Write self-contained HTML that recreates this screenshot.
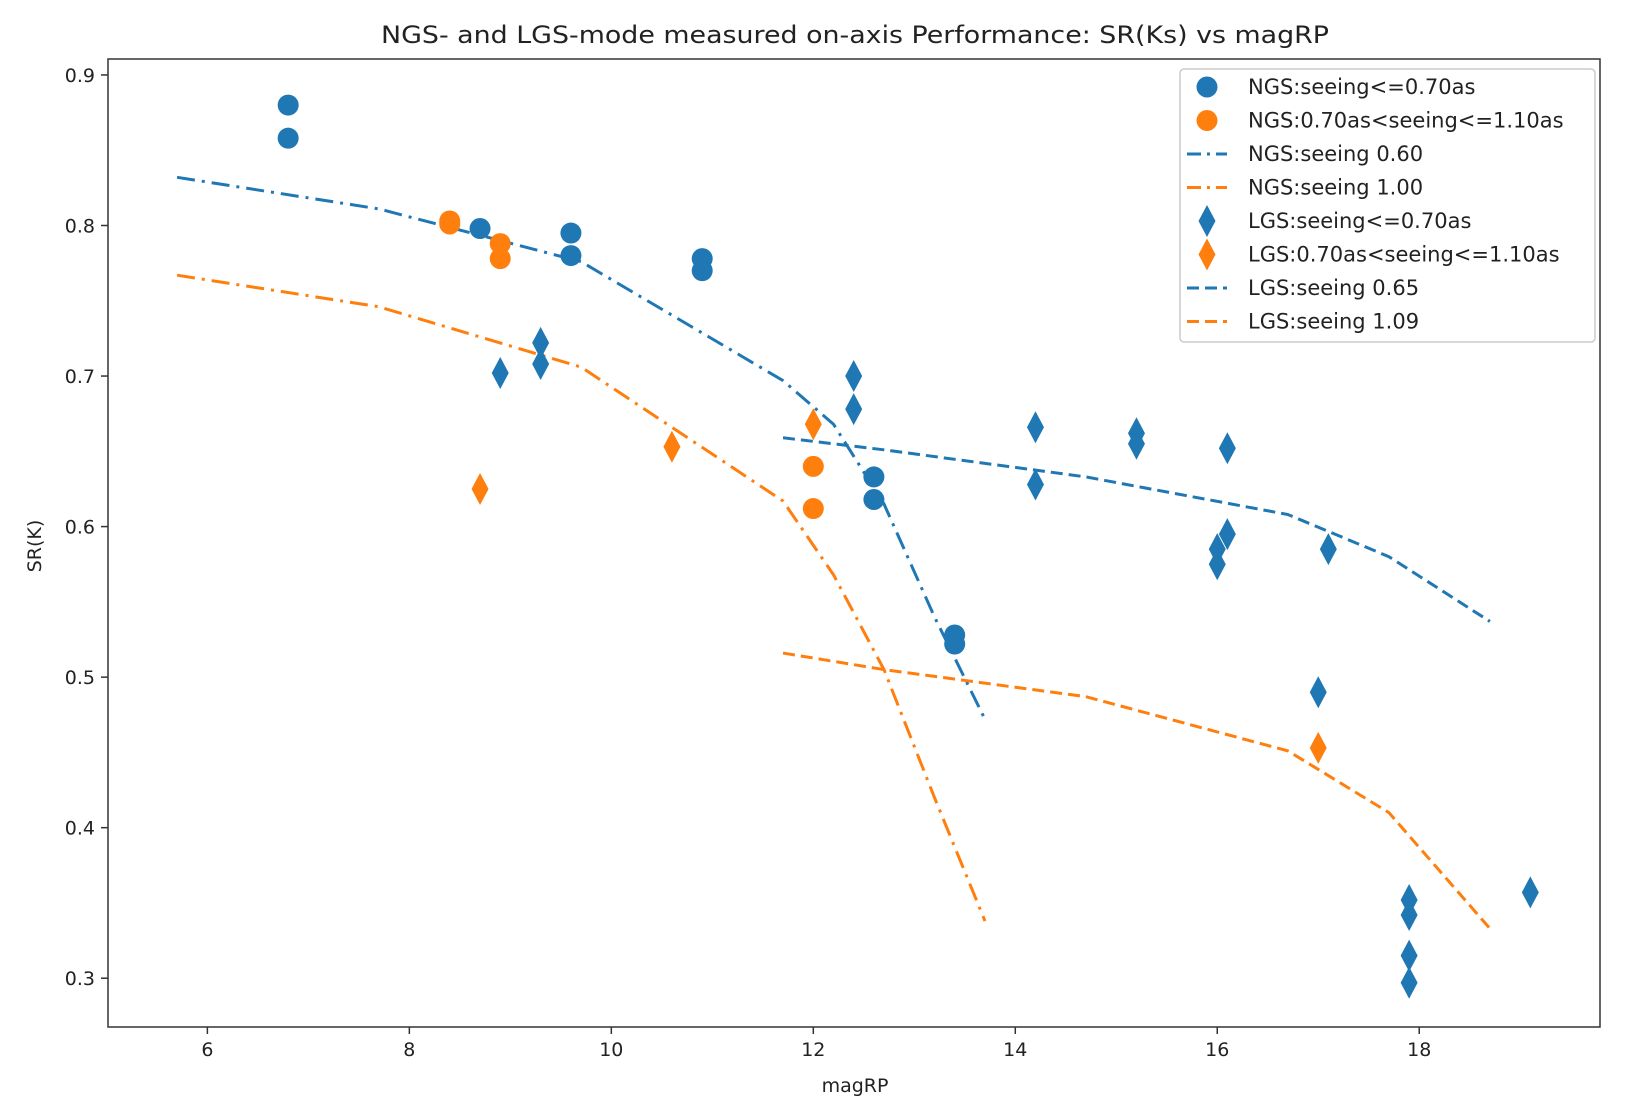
<!DOCTYPE html>
<html><head><meta charset="utf-8"><style>
body{margin:0;background:#fff;}
svg text{font-family:"DejaVu Sans","Liberation Sans",sans-serif;fill:#222;}
</style></head><body>
<svg id="chart" width="1625" height="1109" xmlns="http://www.w3.org/2000/svg">
<text x="855" y="43" font-size="24" text-anchor="middle" textLength="948" lengthAdjust="spacingAndGlyphs">NGS- and LGS-mode measured on-axis Performance: SR(Ks) vs magRP</text>
<text x="855" y="1092" font-size="19" text-anchor="middle">magRP</text>
<text x="0" y="0" font-size="19" text-anchor="middle" transform="translate(41,546) rotate(-90)">SR(K)</text>
<g id="plot"></g>
<rect x="108" y="59" width="1492" height="968" fill="none" stroke="#333" stroke-width="1.5"/>
<g id="legend"></g>
</svg>
<script>
const xTicks=[6,8,10,12,14,16,18];
const yTicks=[0.3,0.4,0.5,0.6,0.7,0.8,0.9];
const ngsGoodX=[6.8,6.8,8.7,9.6,9.6,10.9,10.9,12.6,12.6,13.4,13.4];
const ngsGoodY=[0.88,0.858,0.798,0.795,0.78,0.778,0.77,0.633,0.618,0.528,0.522];
const ngsBadX=[8.4,8.4,8.9,8.9,12.0,12.0];
const ngsBadY=[0.803,0.801,0.788,0.778,0.64,0.612];
const lgsGoodX=[8.9,9.3,9.3,12.4,12.4,14.2,14.2,15.2,15.2,16.0,16.0,16.1,16.1,17.0,17.1,17.9,17.9,17.9,17.9,19.1];
const lgsGoodY=[0.702,0.722,0.708,0.700,0.678,0.666,0.628,0.662,0.655,0.575,0.585,0.595,0.652,0.49,0.585,0.352,0.342,0.315,0.297,0.357];
const lgsBadX=[8.7,10.6,12.0,17.0];
const lgsBadY=[0.625,0.653,0.668,0.453];
const ngsLineX=[5.7,7.7,9.7,11.7,12.2,12.7,13.2,13.7];
const ngs060Y=[0.832,0.811,0.776,0.697,0.668,0.615,0.54,0.472];
const ngs100Y=[0.767,0.746,0.706,0.617,0.568,0.505,0.42,0.338];
const lgsLineX=[11.7,12.7,14.7,16.7,17.7,18.7];
const lgs065Y=[0.659,0.651,0.633,0.608,0.58,0.537];
const lgs109Y=[0.516,0.505,0.487,0.451,0.41,0.333];

const L=108,R=1600,T=59,B=1027,X0=5.016,X1=19.79,Y0=0.2676,Y1=0.9106;
const sx=v=>L+(v-X0)/(X1-X0)*(R-L);
const sy=v=>B-(v-Y0)/(Y1-Y0)*(B-T);
const NS="http://www.w3.org/2000/svg";
const svg=document.getElementById('chart');
const plot=document.getElementById('plot');
const BLUE="#1f77b4",ORANGE="#ff7f0e";
function mk(tag,attrs,parent){const e=document.createElementNS(NS,tag);for(const k in attrs)e.setAttribute(k,attrs[k]);parent.appendChild(e);return e;}
xTicks.forEach(t=>{
  const l=mk('line',{x1:sx(t),x2:sx(t),y1:B,y2:B+7,stroke:'#333','stroke-width':1.5},svg);
  
  
  const tx=mk('text',{x:sx(t),y:B+29,'font-size':19,'text-anchor':'middle'},svg);tx.textContent=t;
  
  
});
yTicks.forEach(t=>{
  const l=mk('line',{x1:L-7,x2:L,y1:sy(t),y2:sy(t),stroke:'#333','stroke-width':1.5},svg);
  
  
  const tx=mk('text',{x:L-13,y:sy(t)+7,'font-size':19,'text-anchor':'end'},svg);tx.textContent=t.toFixed(1);
  
  
});
function line(xs,ys,color,dash,name){
  const p=mk('polyline',{points:xs.map((x,i)=>sx(x)+','+sy(ys[i])).join(' '),fill:'none',stroke:color,'stroke-width':3,'stroke-dasharray':dash},plot);
  
  
}
function circ(cx,cy,color,g){return mk('circle',{cx:cx,cy:cy,r:10.5,fill:color},g);}
function diam(cx,cy,color,g){return mk('polygon',{points:`${cx},${cy-16} ${cx+8.5},${cy} ${cx},${cy+16} ${cx-8.5},${cy}`,fill:color},g);}
line(ngsLineX,ngs060Y,BLUE,'18 7 3 7','ngs-seeing-060-line');
line(ngsLineX,ngs100Y,ORANGE,'18 7 3 7','ngs-seeing-100-line');
line(lgsLineX,lgs065Y,BLUE,'12 6','lgs-seeing-065-line');
line(lgsLineX,lgs109Y,ORANGE,'12 6','lgs-seeing-109-line');
ngsGoodX.forEach((x,i)=>{const e=circ(sx(x),sy(ngsGoodY[i]),BLUE,plot);
  
  });
ngsBadX.forEach((x,i)=>{const e=circ(sx(x),sy(ngsBadY[i]),ORANGE,plot);
  
  });
lgsGoodX.forEach((x,i)=>{const e=diam(sx(x),sy(lgsGoodY[i]),BLUE,plot);
  
  });
lgsBadX.forEach((x,i)=>{const e=diam(sx(x),sy(lgsBadY[i]),ORANGE,plot);
  
  });
const lg=document.getElementById('legend');
mk('rect',{x:1180,y:69,width:415,height:273,rx:4,fill:'#fff',stroke:'#ccc','stroke-width':1.5},lg);
const labels=["NGS:seeing<=0.70as","NGS:0.70as<seeing<=1.10as","NGS:seeing 0.60","NGS:seeing 1.00","LGS:seeing<=0.70as","LGS:0.70as<seeing<=1.10as","LGS:seeing 0.65","LGS:seeing 1.09"];
const kinds=['c','c','dd','dd','d','d','da','da'];
const cols=[BLUE,ORANGE,BLUE,ORANGE,BLUE,ORANGE,BLUE,ORANGE];
labels.forEach((t,i)=>{
  const y=87+i*33.5,cx=1207;
  let m;
  if(kinds[i]=='c')m=circ(cx,y,cols[i],lg);
  else if(kinds[i]=='d')m=diam(cx,y,cols[i],lg);
  else m=mk('line',{x1:1187,x2:1227,y1:y,y2:y,stroke:cols[i],'stroke-width':3,'stroke-dasharray':kinds[i]=='dd'?'14 6 3 6':'12 6'},lg);
  
  
  const tx=mk('text',{x:1248,y:y+7,'font-size':21},lg);tx.textContent=t;
  
  
});
</script>
</body></html>
